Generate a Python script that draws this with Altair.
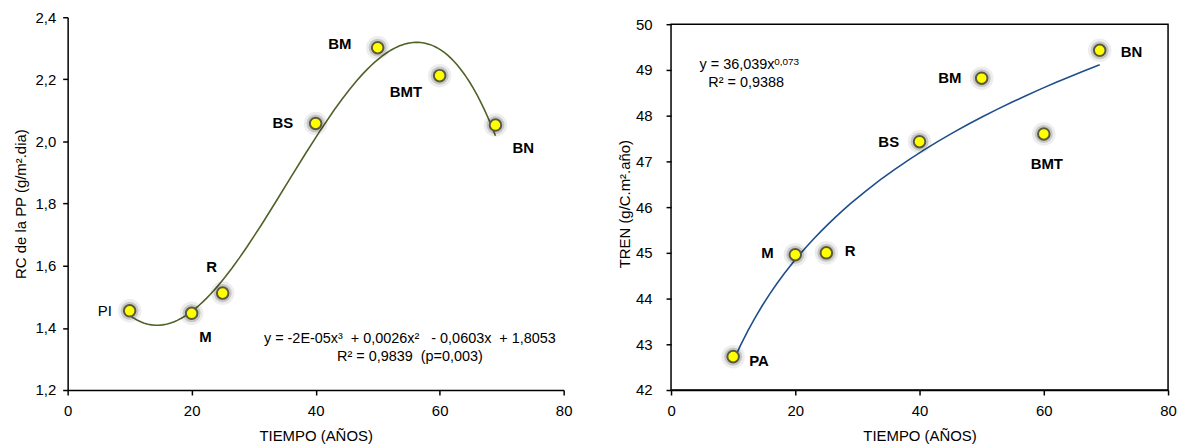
import altair as alt
import pandas as pd

# ---------------- data ----------------
tiempo_rc = [10, 20, 25, 40, 50, 60, 69]
rc = [1.455, 1.447, 1.512, 2.058, 2.302, 2.212, 2.053]
labels_rc = ["PI", "M", "R", "BS", "BM", "BMT", "BN"]

tiempo_tren = [10, 20, 25, 40, 50, 60, 69]
tren = [42.73, 44.96, 45.0, 47.43, 48.82, 47.6, 49.43]
labels_tren = ["PA", "M", "R", "BS", "BM", "BMT", "BN"]

x_ticks = [0, 20, 40, 60, 80]
rc_ticks = [1.2, 1.4, 1.6, 1.8, 2.0, 2.2, 2.4]
tren_ticks = [42, 43, 44, 45, 46, 47, 48, 49, 50]

NB = "\u00a0"
eq_rc = [f"y = -2E-05x³{NB} + 0,0026x²{NB}{NB} - 0,0603x{NB} + 1,8053", f"R² = 0,9839{NB} (p=0,003)"]
eq_tren_main = "y = 36,039x"
eq_tren_exp = "0,073"
eq_tren_r2 = "R² = 0,9388"

FONT = "Liberation Sans"

# label offsets (pixels) and weights
off_rc = {"PI": (-25, 0, "normal"), "M": (14, 24, "bold"), "R": (-11, -26, "bold"),
          "BS": (-33, 0, "bold"), "BM": (-38, -4, "bold"), "BMT": (-34, 16, "bold"),
          "BN": (28, 23, "bold")}
off_tren = {"PA": (26, 4, "bold"), "M": (-28, -2, "bold"), "R": (24, -2, "bold"),
            "BS": (-31, 0, "bold"), "BM": (-32, 0, "bold"), "BMT": (3, 30, "bold"),
            "BN": (32, 2, "bold")}

df_rc = pd.DataFrame({"x": tiempo_rc, "y": rc, "label": labels_rc})
df_tren = pd.DataFrame({"x": tiempo_tren, "y": tren, "label": labels_tren})


def x_enc():
    return alt.X("x:Q", scale=alt.Scale(domain=[0, 80], nice=False, zero=False),
                 axis=alt.Axis(values=x_ticks, title="TIEMPO (AÑOS)", grid=False,
                               labelFontSize=15, titleFontSize=15, titleFontWeight="normal",
                               titleFont=FONT, labelFont=FONT, labelColor="#000", titleColor="#000",
                               domainColor="#000", tickColor="#000", tickSize=5, domainWidth=1.5,
                               tickWidth=1.5, labelPadding=9, titlePadding=10, labelFlush=False))


def y_enc(domain, ticks, title, fmt, lpad, tpad, show_domain):
    return alt.Y("y:Q", scale=alt.Scale(domain=domain, nice=False, zero=False),
                 axis=alt.Axis(values=ticks, title=title, grid=False, domain=show_domain,
                               labelExpr=f"replace(format(datum.value, '{fmt}'), '.', ',')",
                               labelFontSize=15, titleFontSize=15, titleFontWeight="normal",
                               titleFont=FONT, labelFont=FONT, labelColor="#000", titleColor="#000",
                               domainColor="#000", tickColor="#000", tickSize=5, domainWidth=1.5,
                               tickWidth=1.5, labelPadding=lpad, titlePadding=tpad, labelFlush=False))


def panel(df, domain, ticks, title, fmt, method, order, line_color, offsets, lpad, tpad, show_domain):
    base = alt.Chart(df).encode(x=x_enc(), y=y_enc(domain, ticks, title, fmt, lpad, tpad, show_domain))
    if method == "poly":
        reg = base.transform_regression("x", "y", method="poly", order=order, extent=[10, 69])
    else:
        reg = base.transform_regression("x", "y", method=method, extent=[10, 69])
    line = reg.mark_line(color=line_color, strokeWidth=1.6)
    glow1 = base.mark_circle(size=560, color="#000", opacity=0.07)
    glow2 = base.mark_circle(size=330, color="#000", opacity=0.16)
    pts = base.mark_point(filled=True, shape="circle", size=135, fill="#ffff00",
                          stroke="#5a5a3a", strokeWidth=2, opacity=1)
    texts = []
    for lab, (dx, dy, w) in offsets.items():
        texts.append(base.transform_filter(alt.datum.label == lab).mark_text(
            dx=dx, dy=dy, font=FONT, fontSize=15, fontWeight=w, color="#000",
            align="center", baseline="middle").encode(text="label:N"))
    return [line, glow1, glow2, pts] + texts


left_layers = panel(df_rc, [1.2, 2.4], rc_ticks, "RC de la PP (g/m².dia)", ".1f", "poly", 3,
                    "#4f6228", off_rc, 7, 7, True)

eq_df_left = pd.DataFrame({"x": [55.2, 55.2], "y": [1.363, 1.306], "t": eq_rc})
eq_left = alt.Chart(eq_df_left).mark_text(font=FONT, fontSize=14.5, color="#000",
                                          align="center", baseline="middle").encode(
    x=alt.X("x:Q"), y=alt.Y("y:Q"), text="t:N")

left = alt.layer(*left_layers, eq_left).properties(
    width=499, height=375, view=alt.ViewBackground(stroke=None))

# right panel: plot area is 7px taller than its box so the box sits lower than the left axis top
top_r = 50 + 7 / 46
right_layers = panel(df_tren, [42, top_r], tren_ticks, "TREN (g/C.m².año)", ".0f", "pow", None,
                     "#1f4e8c", off_tren, 14, 3, False)

box_df = pd.DataFrame({"x": [0], "x2": [80], "y": [42], "y2": [50]})
box = alt.Chart(box_df).mark_rect(fill=None, stroke="#000", strokeWidth=1.5).encode(
    x="x:Q", x2="x2:Q", y="y:Q", y2="y2:Q")

eq_df_right = pd.DataFrame({"x": [4.6, 6.0], "y": [49.1, 48.72], "t": [eq_tren_main, eq_tren_r2]})
eq_right = alt.Chart(eq_df_right).mark_text(font=FONT, fontSize=14.5, color="#000",
                                            align="left", baseline="middle").encode(
    x=alt.X("x:Q"), y=alt.Y("y:Q"), text="t:N")
eq_exp_df = pd.DataFrame({"x": [16.6], "y": [49.17], "t": [eq_tren_exp]})
eq_exp = alt.Chart(eq_exp_df).mark_text(font=FONT, fontSize=10, color="#000",
                                        align="left", baseline="middle").encode(
    x=alt.X("x:Q"), y=alt.Y("y:Q"), text="t:N")

right = alt.layer(*right_layers, box, eq_right, eq_exp).properties(
    width=500, height=375, view=alt.ViewBackground(stroke=None))

chart = alt.hconcat(left, right, spacing=45).properties(
    padding={"left": 5, "top": 1, "right": 0, "bottom": 0},
    background="white")

chart.save("out.html", embed_options={"renderer": "svg", "actions": False})
